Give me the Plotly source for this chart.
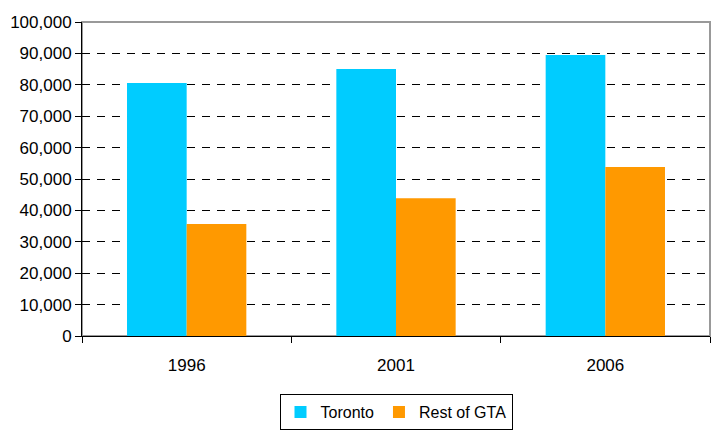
import plotly.graph_objects as go

years = ["1996", "2001", "2006"]
toronto = [80600, 85000, 89500]
rest_gta = [35700, 43900, 53800]
y_ticks = [0, 10000, 20000, 30000, 40000, 50000, 60000, 70000, 80000, 90000, 100000]
y_labels = ["0", "10,000", "20,000", "30,000", "40,000", "50,000", "60,000",
            "70,000", "80,000", "90,000", "100,000"]

font = dict(family="Liberation Sans, Arial, sans-serif", size=17, color="black")
legend_font = dict(family="Liberation Sans, Arial, sans-serif", size=16, color="black")

fig = go.Figure()
fig.add_trace(go.Bar(name="Toronto", x=years, y=toronto, marker=dict(color="#00CCFF", line=dict(width=0))))
fig.add_trace(go.Bar(name="Rest of GTA", x=years, y=rest_gta, marker=dict(color="#FF9900", line=dict(width=0))))

fig.update_layout(
    width=714, height=430,
    margin=dict(l=82, r=4, t=22, b=94, autoexpand=False),
    paper_bgcolor="white", plot_bgcolor="white",
    font=font,
    barmode="group", bargap=0.43, bargroupgap=0,
    showlegend=True,
    legend=dict(orientation="h", x=0.5, xanchor="center",
                yref="container", y=0.0,  yanchor="bottom",
                bordercolor="black", borderwidth=1, bgcolor="white",
                font=legend_font, itemwidth=30, tracegroupgap=0),
    shapes=[dict(type="rect", xref="paper", yref="paper", x0=0, x1=1, y0=0, y1=1,
                 line=dict(color="#999999", width=2), layer="below")],
)
fig.update_xaxes(
    showline=True, linecolor="black", linewidth=1,
    ticks="outside", tickson="boundaries", ticklen=6, tickcolor="black",
    ticklabelstandoff=14,
    showgrid=False, tickfont=font, automargin=False,
)
fig.update_yaxes(
    range=[0, 100000], tickvals=y_ticks, ticktext=y_labels,
    showline=True, linecolor="black", linewidth=1,
    ticks="outside", ticklen=6, tickcolor="black",
    showgrid=True, gridcolor="black", gridwidth=1, griddash="8px,7px",
    zeroline=False, tickfont=font, automargin=False,
)

fig.write_html(
    "out.html",
    config={"displayModeBar": False},
    post_script=(
        "document.documentElement.style.margin='0';"
        "document.documentElement.style.padding='0';"
        "document.documentElement.style.overflow='hidden';"
        "document.body.style.margin='0';"
        "document.body.style.padding='0';"
        "document.body.style.overflow='hidden';"
    ),
)
